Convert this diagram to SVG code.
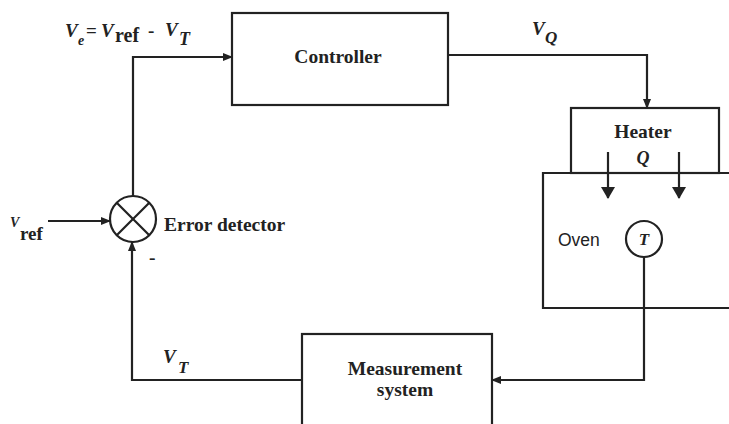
<svg xmlns="http://www.w3.org/2000/svg" width="729" height="424" viewBox="0 0 729 424">
<style>
.box{fill:none;stroke:#222;stroke-width:2.2}
.ln{fill:none;stroke:#222;stroke-width:2.2}
.t{font-family:"Liberation Serif",serif;font-weight:bold;fill:#222;font-size:19.5px}
.it{font-family:"Liberation Serif",serif;font-weight:bold;font-style:italic;fill:#222}
.up{font-family:"Liberation Serif",serif;font-weight:bold;fill:#222}
.sans{font-family:"Liberation Sans",sans-serif;fill:#222}
</style>
<defs>
<marker id="ah" markerWidth="10" markerHeight="8" refX="9" refY="4" orient="auto" markerUnits="userSpaceOnUse">
<path d="M0,0 L10,4 L0,8 Z" fill="#222"/>
</marker>
<marker id="ahb" markerWidth="12" markerHeight="14" refX="11" refY="7" orient="auto" markerUnits="userSpaceOnUse">
<path d="M0,0 L12,7 L0,14 Z" fill="#222"/>
</marker>
</defs>
<rect width="729" height="424" fill="#fff"/>

<g id="controller">
<rect class="box" x="232" y="13" width="216" height="92"/>
<text class="t" x="338" y="63" text-anchor="middle">Controller</text>
</g>

<g id="heater">
<rect class="box" x="571" y="108" width="148" height="65"/>
<text class="t" x="643" y="138" text-anchor="middle">Heater</text>
<text class="it" x="643" y="164" font-size="18" text-anchor="middle">Q</text>
</g>

<g id="oven">
<path class="box" d="M735,173 H543 V308 H735"/>
<text class="sans" x="558" y="246" font-size="17.5">Oven</text>
<circle class="box" cx="644" cy="239" r="18"/>
<text class="it" x="644" y="245" font-size="17" text-anchor="middle">T</text>
</g>

<g id="measurement">
<rect class="box" x="302" y="334" width="190" height="96"/>
<text class="t" x="405" y="375" text-anchor="middle">Measurement</text>
<text class="t" x="405" y="396" text-anchor="middle">system</text>
</g>

<g id="error-detector">
<circle class="box" cx="133" cy="219" r="23"/>
<line class="ln" x1="116.7" y1="202.7" x2="149.3" y2="235.3"/>
<line class="ln" x1="149.3" y1="202.7" x2="116.7" y2="235.3"/>
<text class="t" x="164" y="231">Error detector</text>
<text class="t" x="149" y="264">-</text>
</g>

<g id="connectors">
<path class="ln" d="M48,221 H110" marker-end="url(#ah)"/>
<path class="ln" d="M133,196 V57 H232" marker-end="url(#ah)"/>
<path class="ln" d="M448,55 H647 V108" marker-end="url(#ah)"/>
<path class="ln" d="M608,152 V198" marker-end="url(#ahb)"/>
<path class="ln" d="M679,152 V198" marker-end="url(#ahb)"/>
<path class="ln" d="M644,257 V380 H492" marker-end="url(#ah)"/>
<path class="ln" d="M302,380 H132 V242" marker-end="url(#ah)"/>
</g>

<g id="labels">
<text class="it" x="65" y="37" font-size="19">V</text>
<text class="it" x="78" y="45" font-size="14">e</text>
<text class="up" x="86" y="37" font-size="19">=</text>
<text class="it" x="101" y="37" font-size="19">V</text>
<text class="up" x="115" y="42" font-size="20">ref</text>
<text class="up" x="148" y="37" font-size="19">-</text>
<text class="it" x="165" y="36" font-size="19">V</text>
<text class="it" x="179" y="45" font-size="18">T</text>

<text class="it" x="532" y="35" font-size="19">V</text>
<text class="it" x="545" y="43" font-size="17">Q</text>

<text class="it" x="10" y="227" font-size="14">V</text>
<text class="up" x="20" y="240" font-size="19">ref</text>

<text class="it" x="163" y="363" font-size="19">V</text>
<text class="it" x="178" y="373" font-size="17">T</text>
</g>
</svg>
